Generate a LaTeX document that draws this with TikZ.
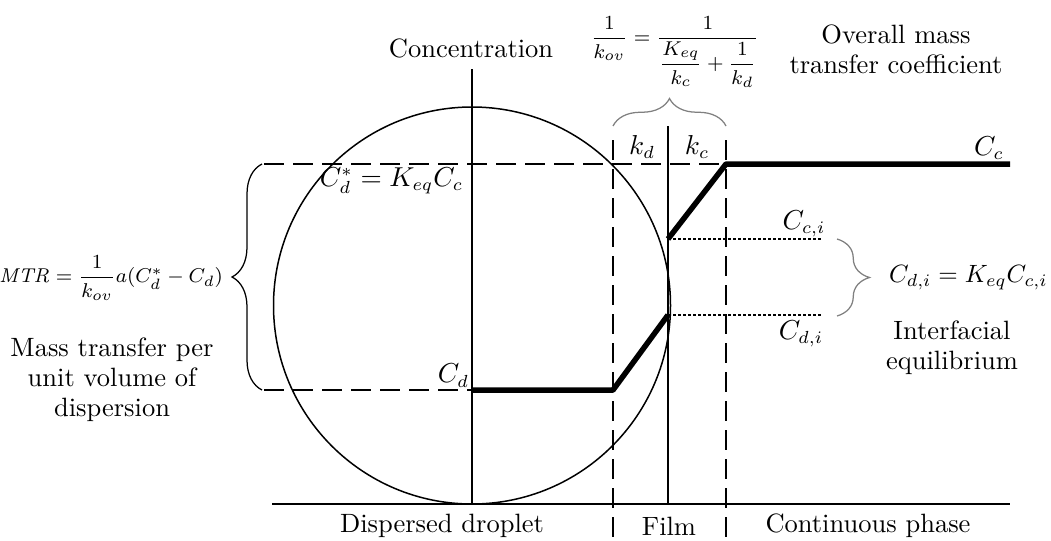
\documentclass[tikz,border=0pt]{standalone}
\usepackage{amsmath}
\usetikzlibrary{decorations.pathreplacing}

\tikzset{
  axisline/.style={line width=0.8pt},
  longdash/.style={line width=0.8pt, dash pattern=on 8pt off 3.6pt},
  finedot/.style={line width=0.6pt, dash pattern=on 1pt off 1pt},
  profile/.style={line width=2.2pt, line join=round},
  curly/.style={decorate, decoration={brace, amplitude=#1}, line width=0.5pt},
  smallmath/.style={font=\fontsize{8.2}{10}\selectfont},
}

\begin{document}
\begin{tikzpicture}[x=0.4pt, y=-0.4pt,
    every node/.style={align=center, inner sep=1pt, font=\fontsize{10.6}{12}\selectfont}]
    \useasboundingbox (0,0) rectangle (1051,540);

    % droplet and axes
    \draw[line width=0.6pt] (472,305.5) circle (198.5);
    \coordinate (axL) at (272,504);
    \coordinate (axR) at (1010,504);
    \coordinate (cTop) at (472,69);
    \coordinate (cBot) at (472,504);
    \coordinate (iTop) at (668,126);
    \coordinate (iBot) at (668,504);
    \draw[axisline] (axL) -- (axR);
    \draw[axisline] (cTop) -- (cBot);
    \draw[axisline] (iTop) -- (iBot);
    \draw[longdash] (613,140) -- (613,540);
    \draw[longdash] (726,140) -- (726,540);

    % levels
    \coordinate (dA) at (472,390);
    \coordinate (dB) at (613,390);
    \coordinate (dI) at (668,315);
    \coordinate (cI) at (668,239);
    \coordinate (cB) at (726,164);
    \coordinate (cA) at (1010,164);
    \draw[longdash] (264,164) -- (cB);
    \draw[longdash] (264,390) -- (dA);
    \draw[finedot] (cI) -- (822,239);
    \draw[finedot] (dI) -- (822,315);

    % concentration profile
    \draw[profile] (dA) -- (dB) -- (dI);
    \draw[profile] (cI) -- (cB) -- (cA);

    % braces
    \draw[curly=12pt] (262,390) -- (262,164);
    \draw[curly=11pt, gray] (613,126) -- (726,126);
    \draw[curly=13pt, gray] (837,239) -- (837,316);

    % labels
    \node (conc) at (471,48) {Concentration};
    \node[anchor=south east] (Cd) at (cBot |- dA) {$C_d$};
    \node[anchor=north east] (Cstar) at (466,165) {$C_d^* = K_{eq}C_c$};
    \node (Cc) at (989,148) {$C_c$};
    \node (Cci) at (804,224) {$C_{c,i}$};
    \node (Cdi) at (801,334) {$C_{d,i}$};
    \node (kd) at (642,147) {$k_d$};
    \node (kc) at (697,147) {$k_c$};
    \node[font=\fontsize{8.2}{10}\selectfont] (kov) at (675,52) {$\displaystyle \frac{1}{k_{ov}} = \frac{1}{\dfrac{K_{eq}}{k_c}+\dfrac{1}{k_d}}$};
    \node (overall) at (896,49) {Overall mass\\transfer coefficient};
    \node[anchor=east, smallmath] (mtr) at (226,278) {$\mathit{MTR} = \dfrac{1}{k_{ov}}a(C_d^* - C_d)$};
    \node (mtrtxt) at (112,380) {Mass transfer per\\unit volume of\\dispersion};
    \node[anchor=west, font=\fontsize{9.8}{12}\selectfont] (equil) at (886,278) {$C_{d,i} = K_{eq}C_{c,i}$};
    \node (equiltxt) at (952,348) {Interfacial\\equilibrium};
    \node (drop) at (442,526) {Dispersed droplet};
    \node (film) at (669,526) {Film};
    \node (cont) at (868,526) {Continuous phase};
\end{tikzpicture}
\end{document}
